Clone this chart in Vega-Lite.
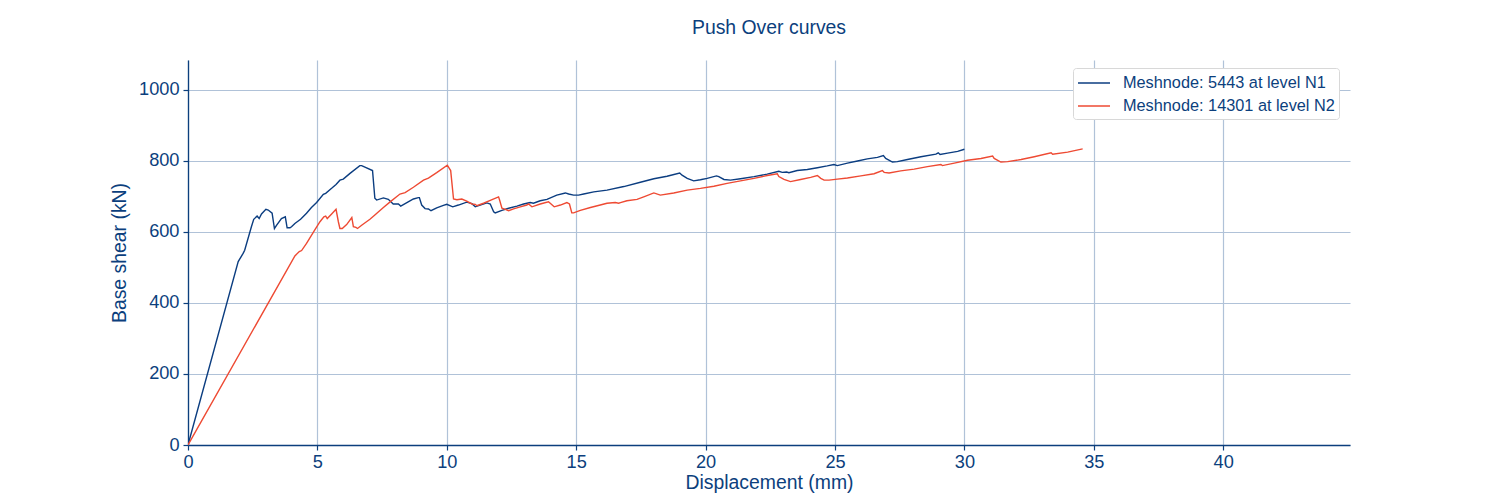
{
  "$schema": "https://vega.github.io/schema/vega-lite/v6.json",
  "autosize": "none",
  "width": 1162,
  "height": 385,
  "padding": {"left": 188, "top": 60, "right": 150, "bottom": 55},
  "background": "white",
  "title": {"text": "Push Over curves", "fontSize": 19.4, "fontWeight": "normal", "font": "Liberation Sans", "color": "#0c3f7d", "offset": 22, "anchor": "middle"},
  "config": {
    "view": {"stroke": null},
    "font": "Liberation Sans",
    "axis": {
      "labelFont": "Liberation Sans", "titleFont": "Liberation Sans",
      "labelFontSize": 18.2, "titleFontSize": 19.4, "titleFontWeight": "normal",
      "labelColor": "#0c3f7d", "titleColor": "#0c3f7d",
      "domainColor": "#0c3f7d", "domainWidth": 1.3, "tickColor": "#0c3f7d", "tickSize": 5, "tickWidth": 1.2,
      "gridColor": "#b0c2d8", "gridWidth": 1.2, "gridOpacity": 1
    },
    "legend": {
      "labelFont": "Liberation Sans", "labelFontSize": 16.3, "labelColor": "#0c3f7d", "labelLimit": 0
    }
  },
  "data": {"values": [
    {"series":"Meshnode: 5443 at level N1","x":0,"y":0},
    {"series":"Meshnode: 5443 at level N1","x":1.94,"y":516},
    {"series":"Meshnode: 5443 at level N1","x":2.13,"y":539},
    {"series":"Meshnode: 5443 at level N1","x":2.19,"y":548},
    {"series":"Meshnode: 5443 at level N1","x":2.45,"y":614},
    {"series":"Meshnode: 5443 at level N1","x":2.54,"y":635},
    {"series":"Meshnode: 5443 at level N1","x":2.67,"y":644},
    {"series":"Meshnode: 5443 at level N1","x":2.75,"y":637},
    {"series":"Meshnode: 5443 at level N1","x":2.84,"y":650},
    {"series":"Meshnode: 5443 at level N1","x":3.01,"y":663},
    {"series":"Meshnode: 5443 at level N1","x":3.10,"y":661},
    {"series":"Meshnode: 5443 at level N1","x":3.25,"y":652},
    {"series":"Meshnode: 5443 at level N1","x":3.34,"y":609},
    {"series":"Meshnode: 5443 at level N1","x":3.42,"y":618},
    {"series":"Meshnode: 5443 at level N1","x":3.61,"y":637},
    {"series":"Meshnode: 5443 at level N1","x":3.76,"y":642},
    {"series":"Meshnode: 5443 at level N1","x":3.83,"y":611},
    {"series":"Meshnode: 5443 at level N1","x":3.94,"y":611},
    {"series":"Meshnode: 5443 at level N1","x":4.00,"y":614},
    {"series":"Meshnode: 5443 at level N1","x":4.13,"y":623},
    {"series":"Meshnode: 5443 at level N1","x":4.35,"y":635},
    {"series":"Meshnode: 5443 at level N1","x":4.58,"y":652},
    {"series":"Meshnode: 5443 at level N1","x":4.77,"y":668},
    {"series":"Meshnode: 5443 at level N1","x":4.97,"y":682},
    {"series":"Meshnode: 5443 at level N1","x":5.23,"y":705},
    {"series":"Meshnode: 5443 at level N1","x":5.32,"y":708},
    {"series":"Meshnode: 5443 at level N1","x":5.55,"y":722},
    {"series":"Meshnode: 5443 at level N1","x":5.72,"y":733},
    {"series":"Meshnode: 5443 at level N1","x":5.87,"y":745},
    {"series":"Meshnode: 5443 at level N1","x":6.00,"y":748},
    {"series":"Meshnode: 5443 at level N1","x":6.26,"y":764},
    {"series":"Meshnode: 5443 at level N1","x":6.64,"y":786},
    {"series":"Meshnode: 5443 at level N1","x":6.71,"y":786},
    {"series":"Meshnode: 5443 at level N1","x":7.13,"y":772},
    {"series":"Meshnode: 5443 at level N1","x":7.22,"y":694},
    {"series":"Meshnode: 5443 at level N1","x":7.29,"y":689},
    {"series":"Meshnode: 5443 at level N1","x":7.55,"y":695},
    {"series":"Meshnode: 5443 at level N1","x":7.74,"y":691},
    {"series":"Meshnode: 5443 at level N1","x":7.93,"y":678},
    {"series":"Meshnode: 5443 at level N1","x":8.13,"y":678},
    {"series":"Meshnode: 5443 at level N1","x":8.22,"y":672},
    {"series":"Meshnode: 5443 at level N1","x":8.71,"y":692},
    {"series":"Meshnode: 5443 at level N1","x":8.90,"y":696},
    {"series":"Meshnode: 5443 at level N1","x":8.94,"y":696},
    {"series":"Meshnode: 5443 at level N1","x":9.03,"y":675},
    {"series":"Meshnode: 5443 at level N1","x":9.16,"y":665},
    {"series":"Meshnode: 5443 at level N1","x":9.29,"y":664},
    {"series":"Meshnode: 5443 at level N1","x":9.39,"y":659},
    {"series":"Meshnode: 5443 at level N1","x":9.61,"y":667},
    {"series":"Meshnode: 5443 at level N1","x":9.87,"y":674},
    {"series":"Meshnode: 5443 at level N1","x":10.00,"y":677},
    {"series":"Meshnode: 5443 at level N1","x":10.23,"y":670},
    {"series":"Meshnode: 5443 at level N1","x":10.45,"y":675},
    {"series":"Meshnode: 5443 at level N1","x":10.77,"y":683},
    {"series":"Meshnode: 5443 at level N1","x":10.97,"y":679},
    {"series":"Meshnode: 5443 at level N1","x":11.10,"y":670},
    {"series":"Meshnode: 5443 at level N1","x":11.29,"y":675},
    {"series":"Meshnode: 5443 at level N1","x":11.55,"y":681},
    {"series":"Meshnode: 5443 at level N1","x":11.68,"y":678},
    {"series":"Meshnode: 5443 at level N1","x":11.81,"y":656},
    {"series":"Meshnode: 5443 at level N1","x":11.87,"y":653},
    {"series":"Meshnode: 5443 at level N1","x":12.13,"y":660},
    {"series":"Meshnode: 5443 at level N1","x":12.39,"y":666},
    {"series":"Meshnode: 5443 at level N1","x":12.71,"y":672},
    {"series":"Meshnode: 5443 at level N1","x":12.97,"y":678},
    {"series":"Meshnode: 5443 at level N1","x":13.22,"y":682},
    {"series":"Meshnode: 5443 at level N1","x":13.35,"y":680},
    {"series":"Meshnode: 5443 at level N1","x":13.61,"y":687},
    {"series":"Meshnode: 5443 at level N1","x":13.87,"y":691},
    {"series":"Meshnode: 5443 at level N1","x":14.25,"y":703},
    {"series":"Meshnode: 5443 at level N1","x":14.58,"y":709},
    {"series":"Meshnode: 5443 at level N1","x":14.71,"y":706},
    {"series":"Meshnode: 5443 at level N1","x":14.90,"y":703},
    {"series":"Meshnode: 5443 at level N1","x":15.09,"y":703},
    {"series":"Meshnode: 5443 at level N1","x":15.29,"y":706},
    {"series":"Meshnode: 5443 at level N1","x":15.68,"y":712},
    {"series":"Meshnode: 5443 at level N1","x":16.19,"y":717},
    {"series":"Meshnode: 5443 at level N1","x":16.84,"y":727},
    {"series":"Meshnode: 5443 at level N1","x":17.48,"y":739},
    {"series":"Meshnode: 5443 at level N1","x":18.00,"y":749},
    {"series":"Meshnode: 5443 at level N1","x":18.51,"y":756},
    {"series":"Meshnode: 5443 at level N1","x":19.00,"y":765},
    {"series":"Meshnode: 5443 at level N1","x":19.09,"y":759},
    {"series":"Meshnode: 5443 at level N1","x":19.29,"y":750},
    {"series":"Meshnode: 5443 at level N1","x":19.54,"y":743},
    {"series":"Meshnode: 5443 at level N1","x":19.80,"y":746},
    {"series":"Meshnode: 5443 at level N1","x":20.06,"y":750},
    {"series":"Meshnode: 5443 at level N1","x":20.42,"y":757},
    {"series":"Meshnode: 5443 at level N1","x":20.51,"y":755},
    {"series":"Meshnode: 5443 at level N1","x":20.71,"y":747},
    {"series":"Meshnode: 5443 at level N1","x":20.96,"y":745},
    {"series":"Meshnode: 5443 at level N1","x":21.35,"y":749},
    {"series":"Meshnode: 5443 at level N1","x":21.87,"y":755},
    {"series":"Meshnode: 5443 at level N1","x":22.38,"y":762},
    {"series":"Meshnode: 5443 at level N1","x":22.83,"y":770},
    {"series":"Meshnode: 5443 at level N1","x":22.96,"y":767},
    {"series":"Meshnode: 5443 at level N1","x":23.13,"y":768},
    {"series":"Meshnode: 5443 at level N1","x":23.22,"y":766},
    {"series":"Meshnode: 5443 at level N1","x":23.54,"y":772},
    {"series":"Meshnode: 5443 at level N1","x":23.93,"y":775},
    {"series":"Meshnode: 5443 at level N1","x":24.32,"y":780},
    {"series":"Meshnode: 5443 at level N1","x":24.70,"y":785},
    {"series":"Meshnode: 5443 at level N1","x":24.96,"y":789},
    {"series":"Meshnode: 5443 at level N1","x":25.09,"y":786},
    {"series":"Meshnode: 5443 at level N1","x":25.48,"y":793},
    {"series":"Meshnode: 5443 at level N1","x":25.87,"y":799},
    {"series":"Meshnode: 5443 at level N1","x":26.25,"y":805},
    {"series":"Meshnode: 5443 at level N1","x":26.64,"y":809},
    {"series":"Meshnode: 5443 at level N1","x":26.87,"y":814},
    {"series":"Meshnode: 5443 at level N1","x":26.96,"y":806},
    {"series":"Meshnode: 5443 at level N1","x":27.22,"y":796},
    {"series":"Meshnode: 5443 at level N1","x":27.41,"y":797},
    {"series":"Meshnode: 5443 at level N1","x":27.80,"y":803},
    {"series":"Meshnode: 5443 at level N1","x":28.32,"y":811},
    {"series":"Meshnode: 5443 at level N1","x":28.90,"y":818},
    {"series":"Meshnode: 5443 at level N1","x":28.99,"y":822},
    {"series":"Meshnode: 5443 at level N1","x":29.06,"y":817},
    {"series":"Meshnode: 5443 at level N1","x":29.35,"y":821},
    {"series":"Meshnode: 5443 at level N1","x":29.74,"y":826},
    {"series":"Meshnode: 5443 at level N1","x":30.00,"y":832},
    {"series":"Meshnode: 14301 at level N2","x":0,"y":0},
    {"series":"Meshnode: 14301 at level N2","x":4.13,"y":532},
    {"series":"Meshnode: 14301 at level N2","x":4.30,"y":544},
    {"series":"Meshnode: 14301 at level N2","x":4.39,"y":547},
    {"series":"Meshnode: 14301 at level N2","x":4.58,"y":567},
    {"series":"Meshnode: 14301 at level N2","x":4.90,"y":605},
    {"series":"Meshnode: 14301 at level N2","x":5.10,"y":628},
    {"series":"Meshnode: 14301 at level N2","x":5.25,"y":642},
    {"series":"Meshnode: 14301 at level N2","x":5.32,"y":644},
    {"series":"Meshnode: 14301 at level N2","x":5.38,"y":637},
    {"series":"Meshnode: 14301 at level N2","x":5.55,"y":650},
    {"series":"Meshnode: 14301 at level N2","x":5.72,"y":663},
    {"series":"Meshnode: 14301 at level N2","x":5.81,"y":628},
    {"series":"Meshnode: 14301 at level N2","x":5.87,"y":609},
    {"series":"Meshnode: 14301 at level N2","x":5.96,"y":609},
    {"series":"Meshnode: 14301 at level N2","x":6.13,"y":620},
    {"series":"Meshnode: 14301 at level N2","x":6.33,"y":640},
    {"series":"Meshnode: 14301 at level N2","x":6.39,"y":614},
    {"series":"Meshnode: 14301 at level N2","x":6.49,"y":612},
    {"series":"Meshnode: 14301 at level N2","x":6.55,"y":609},
    {"series":"Meshnode: 14301 at level N2","x":6.71,"y":618},
    {"series":"Meshnode: 14301 at level N2","x":7.03,"y":635},
    {"series":"Meshnode: 14301 at level N2","x":7.22,"y":647},
    {"series":"Meshnode: 14301 at level N2","x":7.55,"y":668},
    {"series":"Meshnode: 14301 at level N2","x":7.81,"y":684},
    {"series":"Meshnode: 14301 at level N2","x":8.19,"y":706},
    {"series":"Meshnode: 14301 at level N2","x":8.39,"y":710},
    {"series":"Meshnode: 14301 at level N2","x":8.71,"y":725},
    {"series":"Meshnode: 14301 at level N2","x":9.10,"y":745},
    {"series":"Meshnode: 14301 at level N2","x":9.29,"y":751},
    {"series":"Meshnode: 14301 at level N2","x":9.61,"y":766},
    {"series":"Meshnode: 14301 at level N2","x":10.02,"y":787},
    {"series":"Meshnode: 14301 at level N2","x":10.15,"y":772},
    {"series":"Meshnode: 14301 at level N2","x":10.26,"y":692},
    {"series":"Meshnode: 14301 at level N2","x":10.39,"y":690},
    {"series":"Meshnode: 14301 at level N2","x":10.58,"y":692},
    {"series":"Meshnode: 14301 at level N2","x":10.77,"y":686},
    {"series":"Meshnode: 14301 at level N2","x":10.97,"y":678},
    {"series":"Meshnode: 14301 at level N2","x":11.10,"y":677},
    {"series":"Meshnode: 14301 at level N2","x":11.16,"y":673},
    {"series":"Meshnode: 14301 at level N2","x":11.42,"y":680},
    {"series":"Meshnode: 14301 at level N2","x":11.68,"y":688},
    {"series":"Meshnode: 14301 at level N2","x":12.00,"y":698},
    {"series":"Meshnode: 14301 at level N2","x":12.04,"y":689},
    {"series":"Meshnode: 14301 at level N2","x":12.13,"y":666},
    {"series":"Meshnode: 14301 at level N2","x":12.26,"y":663},
    {"series":"Meshnode: 14301 at level N2","x":12.39,"y":659},
    {"series":"Meshnode: 14301 at level N2","x":12.58,"y":664},
    {"series":"Meshnode: 14301 at level N2","x":12.84,"y":670},
    {"series":"Meshnode: 14301 at level N2","x":13.09,"y":675},
    {"series":"Meshnode: 14301 at level N2","x":13.16,"y":678},
    {"series":"Meshnode: 14301 at level N2","x":13.29,"y":670},
    {"series":"Meshnode: 14301 at level N2","x":13.61,"y":678},
    {"series":"Meshnode: 14301 at level N2","x":13.93,"y":684},
    {"series":"Meshnode: 14301 at level N2","x":14.15,"y":670},
    {"series":"Meshnode: 14301 at level N2","x":14.39,"y":675},
    {"series":"Meshnode: 14301 at level N2","x":14.64,"y":682},
    {"series":"Meshnode: 14301 at level N2","x":14.74,"y":678},
    {"series":"Meshnode: 14301 at level N2","x":14.83,"y":653},
    {"series":"Meshnode: 14301 at level N2","x":14.90,"y":653},
    {"series":"Meshnode: 14301 at level N2","x":15.16,"y":660},
    {"series":"Meshnode: 14301 at level N2","x":15.55,"y":668},
    {"series":"Meshnode: 14301 at level N2","x":15.93,"y":675},
    {"series":"Meshnode: 14301 at level N2","x":16.19,"y":680},
    {"series":"Meshnode: 14301 at level N2","x":16.51,"y":682},
    {"series":"Meshnode: 14301 at level N2","x":16.64,"y":680},
    {"series":"Meshnode: 14301 at level N2","x":16.71,"y":682},
    {"series":"Meshnode: 14301 at level N2","x":16.96,"y":687},
    {"series":"Meshnode: 14301 at level N2","x":17.35,"y":691},
    {"series":"Meshnode: 14301 at level N2","x":17.61,"y":698},
    {"series":"Meshnode: 14301 at level N2","x":18.00,"y":709},
    {"series":"Meshnode: 14301 at level N2","x":18.25,"y":703},
    {"series":"Meshnode: 14301 at level N2","x":18.77,"y":709},
    {"series":"Meshnode: 14301 at level N2","x":19.29,"y":717},
    {"series":"Meshnode: 14301 at level N2","x":19.80,"y":722},
    {"series":"Meshnode: 14301 at level N2","x":20.32,"y":728},
    {"series":"Meshnode: 14301 at level N2","x":20.83,"y":736},
    {"series":"Meshnode: 14301 at level N2","x":21.35,"y":743},
    {"series":"Meshnode: 14301 at level N2","x":21.87,"y":750},
    {"series":"Meshnode: 14301 at level N2","x":22.38,"y":758},
    {"series":"Meshnode: 14301 at level N2","x":22.77,"y":763},
    {"series":"Meshnode: 14301 at level N2","x":22.83,"y":755},
    {"series":"Meshnode: 14301 at level N2","x":23.03,"y":747},
    {"series":"Meshnode: 14301 at level N2","x":23.28,"y":741},
    {"series":"Meshnode: 14301 at level N2","x":23.67,"y":747},
    {"series":"Meshnode: 14301 at level N2","x":24.06,"y":753},
    {"series":"Meshnode: 14301 at level N2","x":24.32,"y":758},
    {"series":"Meshnode: 14301 at level N2","x":24.45,"y":750},
    {"series":"Meshnode: 14301 at level N2","x":24.58,"y":745},
    {"series":"Meshnode: 14301 at level N2","x":24.77,"y":745},
    {"series":"Meshnode: 14301 at level N2","x":25.09,"y":748},
    {"series":"Meshnode: 14301 at level N2","x":25.48,"y":751},
    {"series":"Meshnode: 14301 at level N2","x":26.00,"y":757},
    {"series":"Meshnode: 14301 at level N2","x":26.51,"y":763},
    {"series":"Meshnode: 14301 at level N2","x":26.83,"y":772},
    {"series":"Meshnode: 14301 at level N2","x":26.90,"y":767},
    {"series":"Meshnode: 14301 at level N2","x":27.09,"y":765},
    {"series":"Meshnode: 14301 at level N2","x":27.54,"y":771},
    {"series":"Meshnode: 14301 at level N2","x":28.06,"y":776},
    {"series":"Meshnode: 14301 at level N2","x":28.57,"y":783},
    {"series":"Meshnode: 14301 at level N2","x":29.09,"y":789},
    {"series":"Meshnode: 14301 at level N2","x":29.15,"y":786},
    {"series":"Meshnode: 14301 at level N2","x":29.61,"y":793},
    {"series":"Meshnode: 14301 at level N2","x":30.12,"y":801},
    {"series":"Meshnode: 14301 at level N2","x":30.64,"y":806},
    {"series":"Meshnode: 14301 at level N2","x":31.09,"y":813},
    {"series":"Meshnode: 14301 at level N2","x":31.15,"y":806},
    {"series":"Meshnode: 14301 at level N2","x":31.41,"y":796},
    {"series":"Meshnode: 14301 at level N2","x":31.67,"y":797},
    {"series":"Meshnode: 14301 at level N2","x":32.19,"y":803},
    {"series":"Meshnode: 14301 at level N2","x":32.70,"y":811},
    {"series":"Meshnode: 14301 at level N2","x":33.35,"y":822},
    {"series":"Meshnode: 14301 at level N2","x":33.41,"y":818},
    {"series":"Meshnode: 14301 at level N2","x":33.99,"y":824},
    {"series":"Meshnode: 14301 at level N2","x":34.57,"y":833}
  ]},
  "mark": {"type": "line", "strokeWidth": 1.4, "clip": true},
  "encoding": {
    "x": {"field": "x", "type": "quantitative", "title": "Displacement (mm)",
      "scale": {"domain": [0, 44.9], "nice": false, "zero": false},
      "axis": {"values": [0,5,10,15,20,25,30,35,40], "format": "d", "labelPadding": 3, "titlePadding": 3, "labelFlush": false}},
    "y": {"field": "y", "type": "quantitative", "title": "Base shear (kN)",
      "scale": {"domain": [0, 1083], "nice": false, "zero": false},
      "axis": {"values": [0,200,400,600,800,1000], "format": "d", "labelPadding": 4, "titlePadding": 9, "labelFlush": false}},
    "color": {"field": "series", "type": "nominal",
      "scale": {"domain": ["Meshnode: 5443 at level N1", "Meshnode: 14301 at level N2"], "range": ["#0b3d80", "#ee4a33"]},
      "legend": {"title": null, "orient": "none", "legendX": 885, "legendY": 8,
        "symbolType": "M-1.6,0H1.6", "symbolSize": 400, "symbolStrokeWidth": 1.5, "symbolOffset": 6,
        "labelOffset": 18, "rowPadding": 3, "padding": 4,
        "strokeColor": "#d8d8d8", "fillColor": "white", "cornerRadius": 3}}
  }
}
